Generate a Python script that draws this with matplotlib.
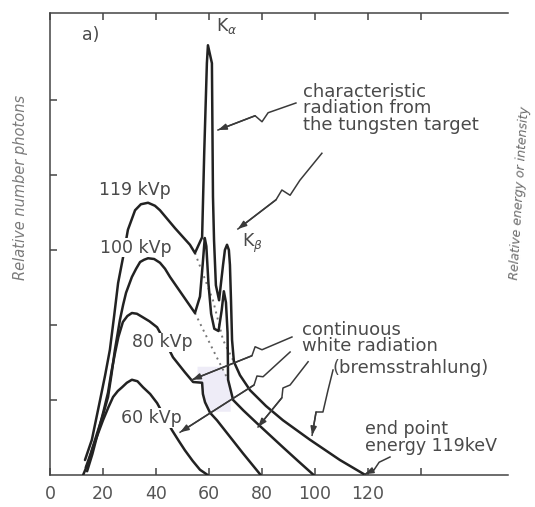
import numpy as np
import matplotlib.pyplot as plt

# photon energy (keV) and relative number of photons for each tube voltage
kev_60 = [12.5, 14.5, 16.2, 18.2, 20.0, 22.0, 23.8, 25.6, 27.2, 29.0, 30.9, 33.0, 35.1, 37.8, 40.4,
          43.2, 46.0, 48.5, 50.9, 53.8, 56.6, 59.5]
rel_60 = [0.00, 0.17, 0.37, 0.56, 0.73, 0.90, 1.04, 1.12, 1.17, 1.23, 1.27, 1.25, 1.17, 1.08, 0.96,
          0.78, 0.60, 0.46, 0.33, 0.19, 0.07, 0.00]

kev_80 = [14.0, 16.0, 18.2, 20.2, 21.9, 23.2, 24.5, 25.8, 27.5, 29.2, 30.9, 32.8, 34.7, 37.5, 40.4,
          43.4, 46.4, 50.9, 54.0, 57.4, 57.7, 58.5, 60.4, 63.0, 67.9, 72.8, 79.5]
rel_80 = [0.05, 0.28, 0.58, 0.85, 1.10, 1.38, 1.62, 1.84, 2.04, 2.12, 2.16, 2.15, 2.11, 2.05, 1.97,
          1.78, 1.57, 1.37, 1.24, 1.23, 1.08, 0.97, 0.83, 0.73, 0.51, 0.29, 0.00]

kev_100 = [13.5, 15.5, 17.8, 20.0, 21.9, 23.2, 24.5, 25.5, 26.4, 27.6, 28.7, 30.9, 32.5, 34.0, 35.5,
           37.0, 39.3, 41.5, 43.4, 45.3, 50.0, 54.7, 56.6, 57.6, 58.4, 59.0, 59.8, 60.8, 62.0, 63.6,
           64.8, 65.6, 66.4, 67.0, 67.2, 69.1, 73.0, 78.1, 83.0, 87.9, 93.5, 99.5]
rel_100 = [0.10, 0.30, 0.56, 0.80, 1.04, 1.34, 1.67, 1.88, 2.07, 2.27, 2.43, 2.64, 2.75, 2.84, 2.87,
           2.89, 2.88, 2.83, 2.75, 2.64, 2.40, 2.16, 2.38, 2.80, 3.16, 3.05, 2.55, 2.15, 1.95, 1.92,
           2.20, 2.45, 2.30, 1.90, 1.27, 1.00, 0.86, 0.69, 0.53, 0.37, 0.19, 0.00]

kev_119 = [13.2, 15.8, 18.9, 20.8, 22.6, 24.2, 25.7, 27.5, 29.4, 32.1, 34.3, 37.0, 39.6, 41.5, 47.2,
           52.8, 54.7, 57.4, 58.2, 59.2, 59.6, 61.1, 61.5, 61.9, 62.6, 63.8, 65.3, 66.0, 66.8, 67.5,
           67.9, 68.3, 68.7, 69.4, 71.7, 75.5, 81.5, 87.9, 98.1, 109.4, 119.0]
rel_119 = [0.20, 0.47, 1.00, 1.33, 1.67, 2.12, 2.56, 2.89, 3.27, 3.53, 3.61, 3.63, 3.59, 3.53, 3.29,
           3.07, 2.96, 3.17, 4.30, 5.49, 5.73, 5.49, 3.71, 3.13, 2.53, 2.33, 2.80, 3.00, 3.07, 3.00,
           2.80, 2.33, 1.80, 1.51, 1.33, 1.13, 0.92, 0.73, 0.47, 0.20, 0.00]

# continuous spectrum underneath the characteristic lines
kev_cont_119 = [54.7, 61.5, 65.3, 69.4]
rel_cont_119 = [2.96, 2.33, 1.80, 1.51]
kev_cont_100 = [54.7, 61.5, 67.2]
rel_cont_100 = [2.16, 1.67, 1.27]

x_ticks = [0, 20, 40, 60, 80, 100, 120, 140]
x_tick_labels = ['0', '20', '40', '60', '80', '100', '120', '']
y_ticks = [1, 2, 3, 4, 5]

INK = '#222222'
TEXT = '#4a4a4a'

fig = plt.figure(figsize=(5.35, 5.07), dpi=100)
ax = fig.add_axes([50 / 535, 32 / 507, 458 / 535, 462 / 507])
ax.set_xlim(0, 458 / 2.65)
ax.set_ylim(0, 462 / 75)

for kev, rel in [(kev_60, rel_60), (kev_80, rel_80), (kev_100, rel_100), (kev_119, rel_119)]:
    ax.plot(kev, rel, color=INK, lw=1.8, solid_joinstyle='round', solid_capstyle='round', zorder=3)
for kev, rel in [(kev_cont_119, rel_cont_119), (kev_cont_100, rel_cont_100)]:
    ax.plot(kev, rel, color='#777777', lw=1.4, ls=(0, (1, 2.2)), zorder=2)

# pale shading of the bremsstrahlung part just above the 80 kVp curve
band = np.linspace(55.5, 68.0, 60)
low = np.maximum(np.interp(band, kev_80, rel_80), 0.85)
high = np.minimum(np.interp(band, kev_100[34:], rel_100[34:], left=1.45), 1.45)
high = np.minimum(high, np.interp(band, kev_cont_100, rel_cont_100))
ax.fill_between(band, low, high, where=high > low, color='#eeecf7', lw=0, zorder=1)

# axes: left, top and bottom frame with inward ticks
ax.spines['right'].set_visible(False)
for side in ['left', 'top', 'bottom']:
    ax.spines[side].set_color('#444444')
    ax.spines[side].set_linewidth(1.1)
ax.set_xticks(x_ticks)
ax.set_xticklabels(x_tick_labels)
ax.set_yticks(y_ticks)
ax.tick_params(axis='both', direction='in', length=5, width=1.1, color='#444444')
ax.tick_params(axis='x', top=True, labeltop=False, pad=7, labelsize=12.5, labelcolor='#555555')
ax.tick_params(axis='y', left=True, labelleft=False)

fig.text(0.038, 0.63, 'Relative number photons', rotation=90, ha='center', va='center',
         fontsize=10.5, style='italic', color='#7a7a7a')
fig.text(0.972, 0.62, 'Relative energy or intensity', rotation=86.5, ha='center', va='center',
         fontsize=9, style='italic', color='#6a6a6a')

# curve labels, with a white box so the curves break around them
box = dict(facecolor='white', edgecolor='none', pad=0.5)
ax.text(32.1, 3.80, '119 kVp', ha='center', va='center', fontsize=12.5, color=TEXT, bbox=box, zorder=4)
ax.text(32.5, 3.03, '100 kVp', ha='center', va='center', fontsize=12.5, color=TEXT, bbox=box, zorder=4)
ax.text(42.3, 1.77, '80 kVp', ha='center', va='center', fontsize=12.5, color=TEXT, bbox=box, zorder=4)
ax.text(38.1, 0.76, '60 kVp', ha='center', va='center', fontsize=12.5, color=TEXT, bbox=box, zorder=4)
ax.text(15.5, 5.87, 'a)', ha='center', va='center', fontsize=12.5, color=TEXT)
ax.text(66.5, 5.98, r'K$_\alpha$', ha='center', va='center', fontsize=12.5, color=TEXT)
ax.text(76.5, 3.09, r'K$_\beta$', ha='center', va='center', fontsize=12.5, color=TEXT)

ax.text(95.5, 4.89, 'characteristic\nradiation from\nthe tungsten target', ha='left', va='center',
        fontsize=13, linespacing=0.88, color=TEXT)
ax.text(95.0, 1.83, 'continuous\nwhite radiation', ha='left', va='center',
        fontsize=13, linespacing=0.88, color=TEXT)
ax.text(106.5, 1.43, '(bremsstrahlung)', ha='left', va='center', fontsize=13, color=TEXT)
ax.text(119.0, 0.50, 'end point\nenergy 119keV', ha='left', va='center',
        fontsize=12.5, linespacing=0.95, color=TEXT)

# hand drawn leader arrows (keV, relative units)
leaders = [
    [(92.8, 4.96), (82.3, 4.83), (80.0, 4.71), (77.4, 4.79), (63.4, 4.60)],
    [(102.6, 4.29), (94.3, 3.93), (90.6, 3.73), (87.5, 3.80), (85.3, 3.67), (70.9, 3.28)],
    [(91.3, 1.84), (80.0, 1.67), (77.4, 1.71), (76.2, 1.59), (53.6, 1.27)],
    [(90.6, 1.64), (80.4, 1.31), (78.1, 1.32), (77.0, 1.20), (49.1, 0.57)],
    [(97.4, 1.51), (90.6, 1.20), (87.9, 1.16), (87.5, 1.03), (78.5, 0.64)],
    [(106.8, 1.40), (104.9, 1.13), (103.0, 0.84), (100.4, 0.84), (98.9, 0.53)],
    [(128.3, 0.24), (124.2, 0.17), (122.3, 0.07), (118.8, 0.01)],
]
for pts in leaders:
    xs, ys = zip(*pts)
    ax.plot(xs, ys, color='#3a3a3a', lw=1.1, zorder=3)
    ax.annotate('', xy=pts[-1], xytext=pts[-2],
                arrowprops=dict(arrowstyle='-|>,head_length=0.5,head_width=0.18',
                                color='#3a3a3a', lw=1.1, shrinkA=0, shrinkB=0), zorder=3)

fig.savefig('out.png', dpi=100)
